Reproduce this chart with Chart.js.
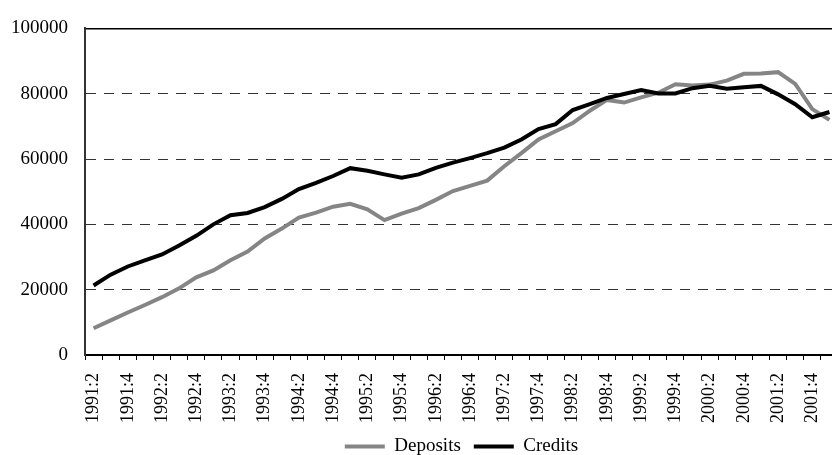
<!DOCTYPE html>
<html lang="en">
<head>
    <meta charset="UTF-8">
    <title>Deposits and Credits</title>
    <script src="https://cdn.jsdelivr.net/npm/chart.js"></script>
    <style>
        body { margin: 0; overflow: hidden; background: #fff; }
        #wrap { width: 838px; height: 455px; position: relative; }
    </style>
</head>
<body>
    <div id="wrap">
        <canvas id="myChart"></canvas>
    </div>
<script>
    var quarters = [
        '1991:2', '1991:3', '1991:4',
        '1992:1', '1992:2', '1992:3', '1992:4',
        '1993:1', '1993:2', '1993:3', '1993:4',
        '1994:1', '1994:2', '1994:3', '1994:4',
        '1995:1', '1995:2', '1995:3', '1995:4',
        '1996:1', '1996:2', '1996:3', '1996:4',
        '1997:1', '1997:2', '1997:3', '1997:4',
        '1998:1', '1998:2', '1998:3', '1998:4',
        '1999:1', '1999:2', '1999:3', '1999:4',
        '2000:1', '2000:2', '2000:3', '2000:4',
        '2001:1', '2001:2', '2001:3', '2001:4',
        '2002:1'
    ];

    var deposits = [8200, 10600, 13000, 15300, 17700, 20400, 23800, 25900, 29000, 31700,
        35700, 38700, 42100, 43600, 45400, 46300, 44600, 41300, 43300, 45000,
        47500, 50200, 51800, 53400, 57800, 61800, 66000, 68500, 71000, 74800,
        78100, 77300, 78900, 80300, 82900, 82500, 82800, 84000, 86100, 86200,
        86600, 83000, 75300, 72000];

    var credits = [21300, 24600, 27100, 29000, 30800, 33500, 36500, 40000, 42800, 43500,
        45300, 47800, 50800, 52700, 54800, 57200, 56400, 55300, 54300, 55300,
        57300, 58900, 60300, 61800, 63500, 66000, 69200, 70700, 75000, 76800,
        78700, 79900, 81100, 80100, 80100, 81700, 82400, 81500, 82000, 82400,
        79800, 76800, 72800, 74400];

    var yTicks = [0, 20000, 40000, 60000, 80000, 100000];

    var serif = 'Liberation Serif';

    new Chart(document.getElementById('myChart'), {
        type: 'line',
        data: {
            labels: quarters,
            datasets: [
                {
                    label: 'Deposits',
                    data: deposits,
                    borderColor: '#858585',
                    backgroundColor: '#858585',
                    borderWidth: 4,
                    pointRadius: 0,
                    tension: 0,
                    order: 1
                },
                {
                    label: 'Credits',
                    data: credits,
                    borderColor: '#000',
                    backgroundColor: '#000',
                    borderWidth: 4,
                    pointRadius: 0,
                    tension: 0,
                    order: 0
                }
            ]
        },
        options: {
            responsive: true,
            maintainAspectRatio: false,
            animation: false,
            layout: {
                padding: { top: 27, left: 0, right: 0, bottom: -11 }
            },
            plugins: {
                tooltip: { enabled: false },
                legend: {
                    position: 'bottom',
                    fullSize: false,
                    labels: {
                        color: '#000',
                        font: { family: serif, size: 19 },
                        boxWidth: 40,
                        boxHeight: 4,
                        padding: 13,
                        sort: function(a, b) { return a.datasetIndex - b.datasetIndex; },
                        generateLabels: function(chart) {
                            var items = Chart.defaults.plugins.legend.labels.generateLabels(chart);
                            items.forEach(function(it) {
                                it.lineWidth = 0;
                                it.fillStyle = it.strokeStyle;
                            });
                            return items;
                        }
                    }
                }
            },
            scales: {
                x: {
                    offset: true,
                    grid: {
                        offset: true,
                        drawOnChartArea: false,
                        drawTicks: true,
                        tickLength: 5,
                        color: '#000',
                        lineWidth: 1
                    },
                    border: { color: '#000', width: 2 },
                    ticks: {
                        autoSkip: false,
                        maxRotation: 90,
                        minRotation: 90,
                        padding: 13,
                        color: '#000',
                        font: { family: serif, size: 18 },
                        callback: function(val, i) {
                            // every second quarter gets a label
                            return i % 2 === 0 ? quarters[i] : '';
                        }
                    },
                    afterFit: function(scale) {
                        scale.height = 69;
                        // plot runs right up to the canvas edge
                        scale.paddingLeft = 0;
                        scale.paddingRight = 0;
                    }
                },
                y: {
                    min: 0,
                    max: 100000,
                    afterBuildTicks: function(scale) {
                        scale.ticks = yTicks.map(function(v) { return { value: v }; });
                    },
                    grid: {
                        drawTicks: false,
                        color: function(ctx) {
                            if (ctx.tick.value === 0) return 'rgba(0,0,0,0)';
                            if (ctx.tick.value === 100000) return '#000';
                            return '#333';
                        },
                        lineWidth: function(ctx) {
                            return ctx.tick.value === 100000 ? 1.5 : 1;
                        }
                    },
                    border: {
                        color: '#333',
                        width: 2,
                        dash: function(ctx) {
                            return ctx.tick && ctx.tick.value === 100000 ? [] : [10, 8];
                        }
                    },
                    ticks: {
                        padding: 17,
                        color: '#000',
                        font: { family: serif, size: 19 },
                        callback: function(v) { return String(v); }
                    },
                    afterFit: function(scale) { scale.width = 85; }
                }
            }
        }
    });
</script>
</body>
</html>
